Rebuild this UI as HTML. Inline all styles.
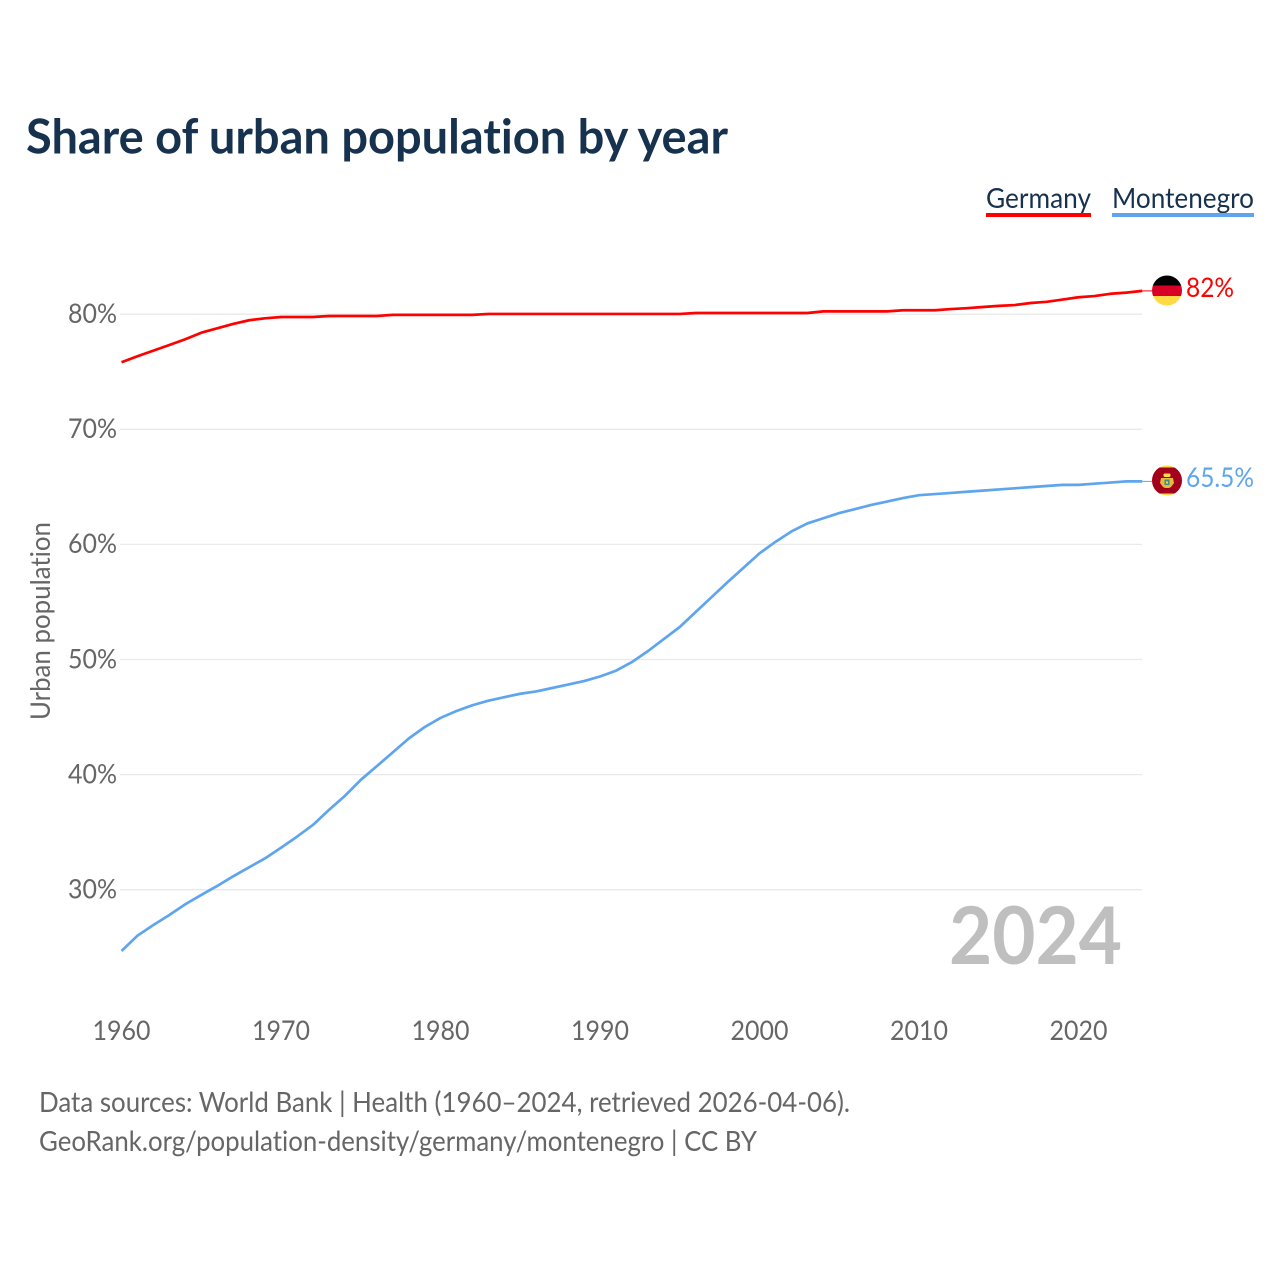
<!DOCTYPE html>
<html lang="en">
<head>
<meta charset="utf-8">
<title>Share of urban population by year</title>
<style>
html,body{margin:0;padding:0;background:#fff;width:1280px;height:1280px;overflow:hidden}
svg{display:block}
text{font-family:"Lato","Carlito","Liberation Sans",sans-serif;font-variant-ligatures:none}
</style>
</head>
<body>
<svg id="chart" xmlns="http://www.w3.org/2000/svg" width="1280" height="1280" viewBox="0 0 1280 1280">
  <rect x="0" y="0" width="1280" height="1280" fill="#ffffff"/>
  <text x="26" y="153.5" font-size="47.5" font-weight="700" fill="#17324f" textLength="702" lengthAdjust="spacingAndGlyphs">Share of urban population by year</text>

  <g id="grid"></g>
  <g id="yticks"></g>
  <g id="xticks"></g>

  <text transform="translate(50,720) rotate(-90)" font-size="27" fill="#666666" textLength="198" lengthAdjust="spacingAndGlyphs">Urban population</text>

  <g id="series"></g>

  <text x="949" y="964" font-size="80" font-weight="700" fill="#bfbfbf" textLength="173" lengthAdjust="spacingAndGlyphs">2024</text>

  <g>
    <text x="986" y="208" font-size="28" fill="#17324f" textLength="105" lengthAdjust="spacingAndGlyphs">Germany</text>
    <rect x="986" y="213" width="105" height="4" fill="#ff0000"/>
  </g>
  <g>
    <text x="1112" y="208" font-size="28" fill="#17324f" textLength="142" lengthAdjust="spacingAndGlyphs">Montenegro</text>
    <rect x="1112" y="213" width="142" height="4" fill="#5ea5ee"/>
  </g>

  <defs>
    <clipPath id="flagClipDe"><circle cx="1167" cy="290.5" r="15"/></clipPath>
    <clipPath id="flagClipMe"><circle cx="1167" cy="480.5" r="15"/></clipPath>
  </defs>
  <g clip-path="url(#flagClipDe)">
    <rect x="1152" y="275" width="30" height="11" fill="#000000"/>
    <rect x="1152" y="285.5" width="30" height="10.5" fill="#d80027"/>
    <rect x="1152" y="296" width="30" height="11" fill="#ffda44"/>
  </g>
  <g clip-path="url(#flagClipMe)">
    <rect x="1152" y="465" width="30" height="31" fill="#ffda44"/>
    <rect x="1152" y="467.5" width="30" height="26" fill="#a2001d"/>
    <rect x="1163.5" y="473.5" width="7" height="3.5" rx="1.2" fill="#ffda44"/>
    <polygon points="1161,478 1173,478 1174,483 1171,487 1169,488 1165,488 1163,487 1160,483" fill="#e8b93a"/>
    <rect x="1164.5" y="479.5" width="5" height="5.5" fill="#3f8f8a"/>
    <rect x="1166" y="481.5" width="2" height="2" fill="#ffda44"/>
  </g>

  <text x="1186" y="297" font-size="27" fill="#ff0000" textLength="48" lengthAdjust="spacingAndGlyphs">82%</text>
  <text x="1186" y="487" font-size="27" fill="#5ea5ee" textLength="68" lengthAdjust="spacingAndGlyphs">65.5%</text>

  <text x="39" y="1112" font-size="28" fill="#666666" textLength="811" lengthAdjust="spacingAndGlyphs">Data sources: World Bank | Health (1960–2024, retrieved 2026-04-06).</text>
  <text x="39" y="1151" font-size="28" fill="#666666" textLength="718" lengthAdjust="spacingAndGlyphs">GeoRank.org/population-density/germany/montenegro | CC BY</text>
</svg>
<script>
const startYear = 1960;
const germanyValues = [75.85,76.37,76.86,77.35,77.85,78.42,78.8,79.18,79.5,79.67,79.78,79.78,79.78,79.87,79.87,79.87,79.87,79.97,79.97,79.97,79.97,79.97,79.97,80.05,80.05,80.05,80.05,80.05,80.05,80.05,80.05,80.05,80.05,80.05,80.05,80.05,80.13,80.13,80.13,80.13,80.13,80.13,80.13,80.13,80.27,80.27,80.27,80.27,80.27,80.37,80.37,80.37,80.47,80.55,80.65,80.75,80.82,81.0,81.1,81.3,81.5,81.6,81.8,81.9,82.05];
const montenegroValues = [24.7,26.03,26.96,27.83,28.76,29.57,30.35,31.19,31.97,32.75,33.67,34.63,35.65,36.95,38.17,39.56,40.75,41.95,43.15,44.15,44.95,45.55,46.05,46.45,46.75,47.05,47.25,47.55,47.85,48.15,48.55,49.05,49.8,50.75,51.8,52.85,54.15,55.45,56.75,58.0,59.25,60.25,61.15,61.85,62.3,62.75,63.1,63.45,63.75,64.05,64.3,64.4,64.5,64.6,64.7,64.8,64.9,65.0,65.1,65.2,65.2,65.3,65.4,65.5,65.5];
const xTickYears = [1960,1970,1980,1990,2000,2010,2020];
const yTickValues = [30,40,50,60,70,80];

const SVG_NS = 'http://www.w3.org/2000/svg';
function xScale(year) { return 121.5 + (year - 1960) * 15.95; }
function yScale(value) { return 890 - (value - 30) * 11.51; }

const gridGroup = document.getElementById('grid');
const yTickGroup = document.getElementById('yticks');
const xTickGroup = document.getElementById('xticks');
const seriesGroup = document.getElementById('series');

yTickValues.forEach(function (tick) {
  const line = document.createElementNS(SVG_NS, 'line');
  
  
  line.setAttribute('x1', 120);
  line.setAttribute('x2', 1142);
  line.setAttribute('y1', yScale(tick) - 0.3);
  line.setAttribute('y2', yScale(tick) - 0.3);
  line.setAttribute('stroke', '#e9e9e9');
  line.setAttribute('stroke-width', 1.3);
  gridGroup.appendChild(line);

  const label = document.createElementNS(SVG_NS, 'text');
  
  
  label.setAttribute('x', 68);
  label.setAttribute('y', yScale(tick) + 8.5);
  label.setAttribute('font-size', 27);
  label.setAttribute('fill', '#666666');
  label.setAttribute('textLength', 49);
  label.setAttribute('lengthAdjust', 'spacingAndGlyphs');
  label.textContent = tick + '%';
  yTickGroup.appendChild(label);
});

xTickYears.forEach(function (year) {
  const label = document.createElementNS(SVG_NS, 'text');
  
  
  label.setAttribute('x', xScale(year) - 29);
  label.setAttribute('y', 1040);
  label.setAttribute('font-size', 27);
  label.setAttribute('fill', '#666666');
  label.setAttribute('textLength', 58);
  label.setAttribute('lengthAdjust', 'spacingAndGlyphs');
  label.textContent = String(year);
  xTickGroup.appendChild(label);
});

function linePoints(values) {
  return values.map(function (value, index) {
    return xScale(startYear + index).toFixed(2) + ',' + yScale(value).toFixed(2);
  }).join(' ');
}

const germanyLine = document.createElementNS(SVG_NS, 'polyline');


germanyLine.setAttribute('points', linePoints(germanyValues));
germanyLine.setAttribute('fill', 'none');
germanyLine.setAttribute('stroke', '#ff0000');
germanyLine.setAttribute('stroke-width', 2.7);
germanyLine.setAttribute('stroke-linejoin', 'round');
seriesGroup.appendChild(germanyLine);

const montenegroLine = document.createElementNS(SVG_NS, 'polyline');


montenegroLine.setAttribute('points', linePoints(montenegroValues));
montenegroLine.setAttribute('fill', 'none');
montenegroLine.setAttribute('stroke', '#5ea5ee');
montenegroLine.setAttribute('stroke-width', 2.7);
montenegroLine.setAttribute('stroke-linejoin', 'round');
seriesGroup.appendChild(montenegroLine);

const germanyLeader = document.createElementNS(SVG_NS, 'line');


germanyLeader.setAttribute('x1', xScale(startYear + germanyValues.length - 1));
germanyLeader.setAttribute('x2', 1153);
germanyLeader.setAttribute('y1', yScale(germanyValues[germanyValues.length - 1]));
germanyLeader.setAttribute('y2', yScale(germanyValues[germanyValues.length - 1]));
germanyLeader.setAttribute('stroke', '#ff0000');
germanyLeader.setAttribute('stroke-width', 1);
seriesGroup.appendChild(germanyLeader);

const montenegroLeader = document.createElementNS(SVG_NS, 'line');


montenegroLeader.setAttribute('x1', xScale(startYear + montenegroValues.length - 1));
montenegroLeader.setAttribute('x2', 1153);
montenegroLeader.setAttribute('y1', yScale(montenegroValues[montenegroValues.length - 1]));
montenegroLeader.setAttribute('y2', yScale(montenegroValues[montenegroValues.length - 1]));
montenegroLeader.setAttribute('stroke', '#5ea5ee');
montenegroLeader.setAttribute('stroke-width', 1);
seriesGroup.appendChild(montenegroLeader);
</script>
</body>
</html>
